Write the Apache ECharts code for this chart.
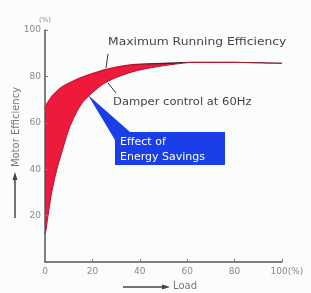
<!DOCTYPE html>
<html>
<head>
<meta charset="utf-8">
<script src="https://cdn.jsdelivr.net/npm/echarts@6/dist/echarts.min.js"></script>
<style>
  html, body { margin: 0; padding: 0; background: #fbfdfd; }
  #chart { width: 311px; height: 293px; }
</style>
</head>
<body>
<div id="chart"></div>
<script>
// load (%) sampled along both curves
const load = [0, 0.3, 1, 2, 3, 5, 7, 10, 13, 16, 20, 25, 30, 37, 45, 55, 62, 70, 80, 90, 100];
// Maximum Running Efficiency (%)
const maxEff = [66, 67, 68.5, 70, 71.5, 73.5, 75.3, 77, 78.5, 79.8, 81.2, 82.8, 84, 85, 85.5, 85.8, 86, 86, 86, 85.8, 85.6];
// Damper control at 60Hz (%)
const damperEff = [12, 13, 18, 25, 31, 40, 47, 57, 64, 69, 73, 77, 79.5, 82, 83.8, 85.3, 86, 86, 86, 85.8, 85.6];
const xTicks = [0, 20, 40, 60, 80, 100];
const yTicks = [20, 40, 60, 80, 100];

const bg = '#fbfdfd';
const font = 'DejaVu Sans';
const lowerPts = load.map((x, i) => [x, damperEff[i]]);
const upperPts = load.map((x, i) => [x, maxEff[i]]);

const chart = echarts.init(document.getElementById('chart'), null, {renderer: 'canvas'});
const option = {
  backgroundColor: bg,
  animation: false,
  grid: {left: 45, right: 29, top: 30, bottom: 31},
  xAxis: {
    type: 'value', min: 0, max: 100, interval: 20, z: 10,
    axisLine: {lineStyle: {color: '#555', width: 1.5}},
    axisTick: {show: true, inside: true, length: 3, lineStyle: {color: '#777'}},
    splitLine: {show: false},
    axisLabel: {
      color: '#888', fontSize: 9, fontFamily: font, margin: 5,
      formatter: v => xTicks.includes(v) ? (v === 100 ? '{e|100(%)}' : String(v)) : '',
      rich: {e: {color: '#888', fontSize: 9, fontFamily: font, padding: [0, 0, 0, 10]}}
    }
  },
  yAxis: {
    type: 'value', min: 0, max: 100, interval: 20, z: 10,
    name: '(%)', nameLocation: 'end', nameGap: 6,
    nameTextStyle: {color: '#888', fontSize: 7, fontFamily: font, align: 'center'},
    axisLine: {show: true, lineStyle: {color: '#555', width: 1.5}},
    axisTick: {show: true, inside: true, length: 3, lineStyle: {color: '#777'}},
    splitLine: {show: false},
    axisLabel: {
      color: '#888', fontSize: 9, fontFamily: font, margin: 4,
      formatter: v => yTicks.includes(v) ? String(v) : ''
    }
  },
  series: [
    {
      // red band = area under max curve, lower part masked by the damper area
      name: 'Maximum Running Efficiency', type: 'line', data: upperPts,
      smooth: 0.3, symbol: 'none', z: 2,
      areaStyle: {color: '#ee1a3c', opacity: 1},
      lineStyle: {
        width: 1.5,
        color: new echarts.graphic.LinearGradient(0, 0, 1, 0, [
          {offset: 0, color: '#e0163a'},
          {offset: 0.35, color: '#c0142e'},
          {offset: 0.6, color: '#222'},
          {offset: 1, color: '#222'}
        ])
      }
    },
    {
      name: 'Damper control at 60Hz', type: 'line', data: lowerPts,
      smooth: 0.3, symbol: 'none', z: 3,
      areaStyle: {color: bg, opacity: 1},
      lineStyle: {color: '#b0102c', width: 1}
    }
  ],
  graphic: [
    {type: 'text', left: 108, top: 37, z: 20, scaleX: 1.12, style: {text: 'Maximum Running Efficiency', fill: '#444', font: '11px "DejaVu Sans"'}},
    {type: 'line', z: 20, shape: {x1: 108, y1: 54, x2: 106, y2: 68}, style: {stroke: '#333', lineWidth: 1}},
    {type: 'text', left: 113, top: 97, z: 20, scaleX: 1.05, style: {text: 'Damper control at 60Hz', fill: '#444', font: '11px "DejaVu Sans"'}},
    {type: 'line', z: 20, shape: {x1: 108, y1: 83, x2: 116, y2: 93}, style: {stroke: '#333', lineWidth: 1}},
    {type: 'polygon', z: 20, shape: {points: [[88, 95], [115, 140], [130, 132]]}, style: {fill: '#1a3ee8'}},
    {type: 'rect', z: 20, shape: {x: 115, y: 132, width: 110, height: 33}, style: {fill: '#1a3ee8'}},
    {type: 'text', left: 120, top: 135, z: 21, style: {text: 'Effect of\nEnergy Savings', fill: '#fff', font: '11px "DejaVu Sans"', lineHeight: 15}},
    {type: 'text', x: 16, y: 127, z: 20, rotation: Math.PI / 2, style: {text: 'Motor Efficiency', fill: '#777', font: '10px "DejaVu Sans"', align: 'center', verticalAlign: 'middle'}},
    {type: 'line', z: 20, shape: {x1: 15, y1: 218, x2: 15, y2: 176}, style: {stroke: '#444', lineWidth: 1.5}},
    {type: 'polygon', z: 20, shape: {points: [[15, 172], [12.5, 180], [17.5, 180]]}, style: {fill: '#444'}},
    {type: 'line', z: 20, shape: {x1: 123, y1: 287, x2: 165, y2: 287}, style: {stroke: '#444', lineWidth: 1.5}},
    {type: 'polygon', z: 20, shape: {points: [[170, 287], [162, 284.5], [162, 289.5]]}, style: {fill: '#444'}},
    {type: 'text', left: 173, top: 281, z: 20, style: {text: 'Load', fill: '#777', font: '10px "DejaVu Sans"'}}
  ]
};
chart.setOption(option);
</script>
</body>
</html>
